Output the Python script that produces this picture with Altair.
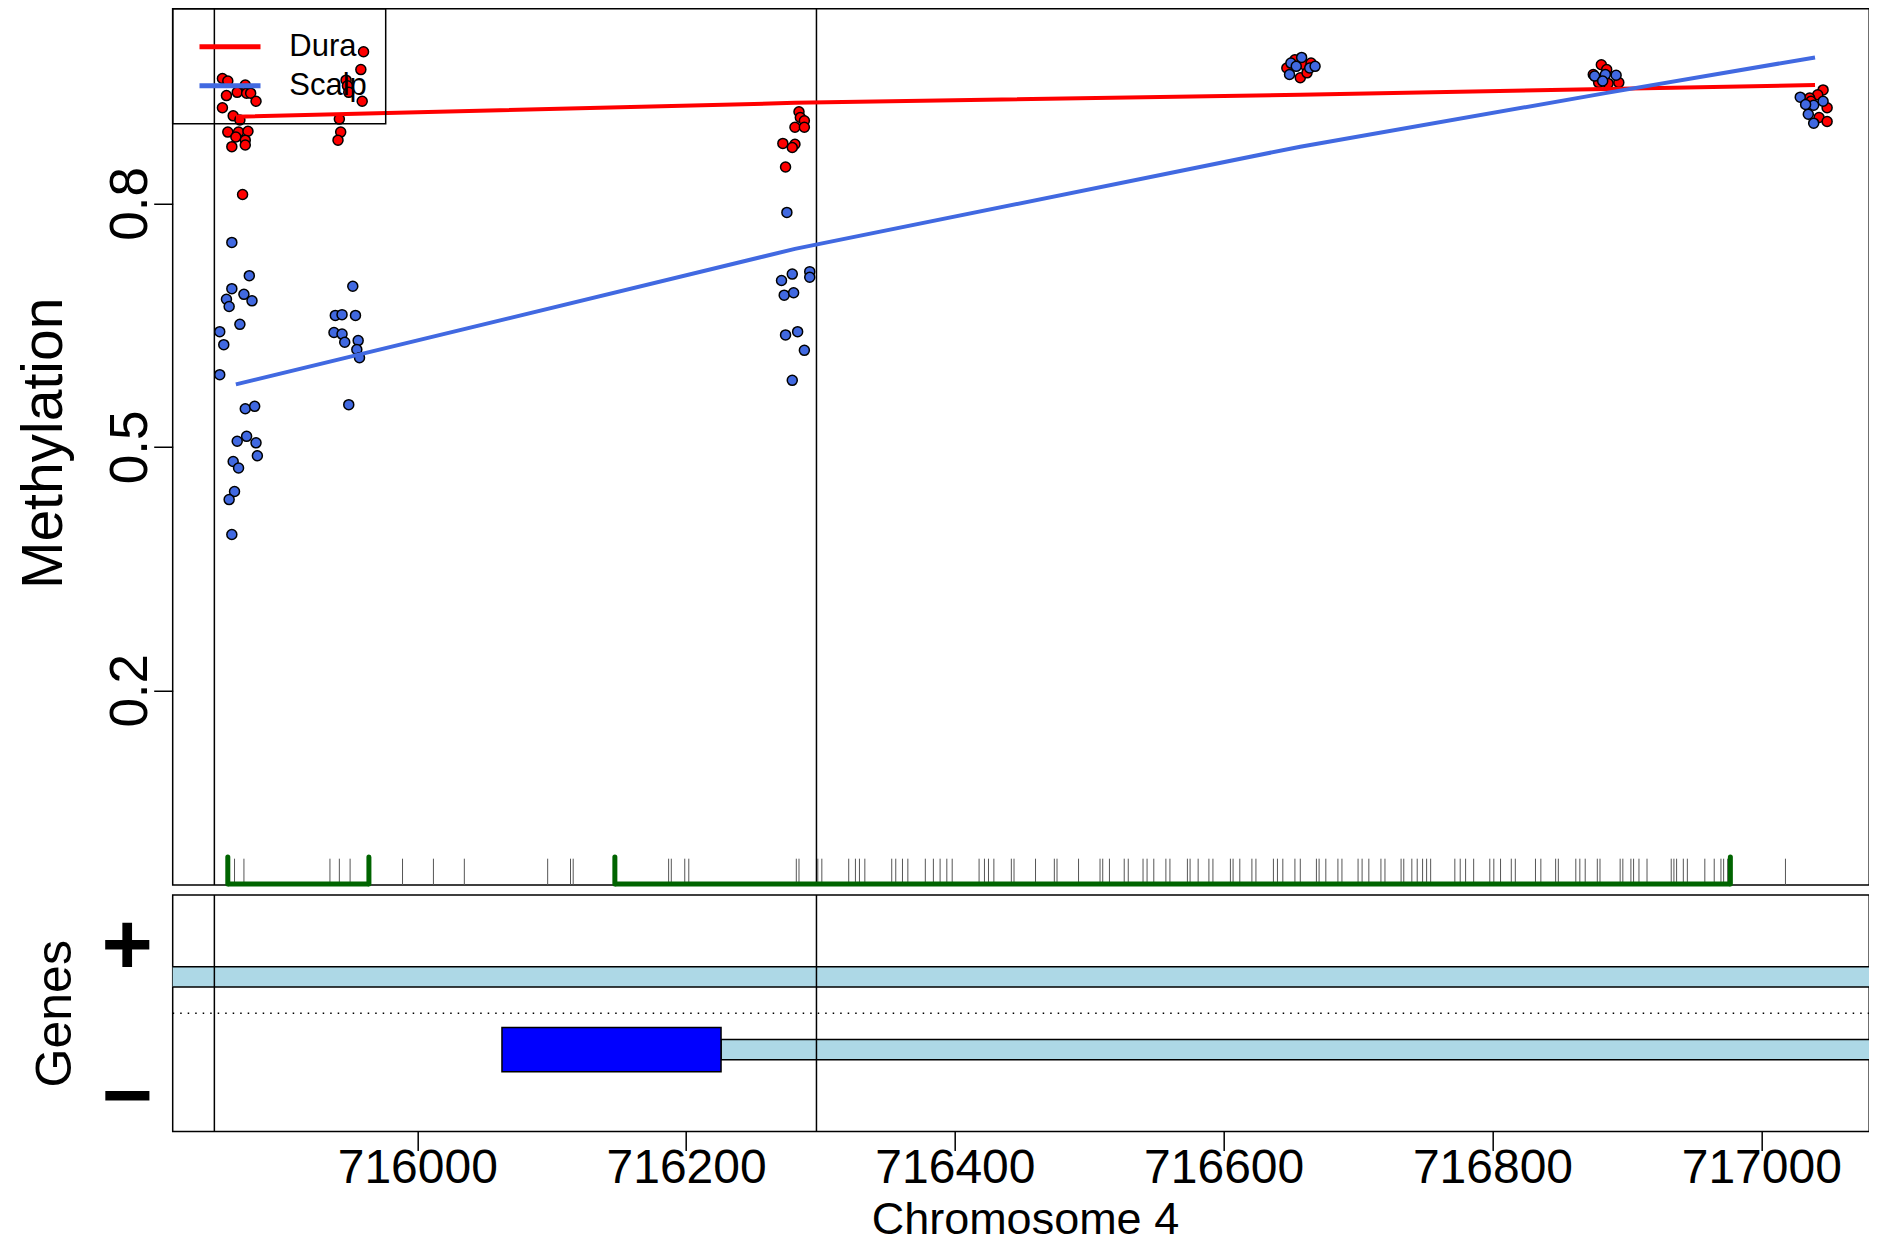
import altair as alt
import pandas as pd

# ---------------- data ----------------
x_ticks = [716000, 716200, 716400, 716600, 716800, 717000]
y_ticks = [0.2, 0.5, 0.8]
x_domain = [715818, 717080.3]
y_domain = [-0.04, 1.04]

tissues = ["Dura", "Scalp"]
tissue_colors = ["#FF0000", "#4169E1"]

dura_x = [715855, 715859, 715858, 715866, 715872, 715873, 715876, 715880, 715855, 715863,
          715868, 715859, 715867, 715874, 715865, 715872, 715862, 715872, 715870,
          715960, 715958, 715947, 715948, 715949, 715959, 715942, 715943, 715941,
          716284, 716285, 716288, 716281, 716288, 716272, 716281, 716279, 716274,
          716657, 716660, 716647, 716662, 716653, 716665,
          716881, 716885, 716879, 716886, 716894, 716875,
          717046, 717042, 717036, 717049, 717043, 717049, 717037]
dura_y = [0.954, 0.951, 0.933, 0.937, 0.946, 0.936, 0.936, 0.926, 0.918, 0.908,
          0.903, 0.888, 0.888, 0.889, 0.882, 0.878, 0.870, 0.872, 0.811,
          0.987, 0.965, 0.952, 0.945, 0.937, 0.926, 0.904, 0.888, 0.878,
          0.913, 0.906, 0.902, 0.894, 0.894, 0.874, 0.873, 0.869, 0.845,
          0.955, 0.971, 0.967, 0.961, 0.977, 0.973,
          0.971, 0.965, 0.949, 0.948, 0.949, 0.959,
          0.940, 0.934, 0.930, 0.918, 0.906, 0.901, 0.926]

scalp_x = [715862, 715875, 715862, 715858, 715871, 715877, 715860, 715868, 715853, 715856,
           715853, 715872, 715879, 715873, 715866, 715880, 715881, 715863, 715867, 715864,
           715860, 715862,
           715952, 715939, 715944, 715954, 715938, 715944, 715946, 715956, 715955, 715957, 715949,
           716275, 716292, 716292, 716279, 716271, 716273, 716280, 716274, 716283, 716288, 716279,
           716650, 716649, 716664, 716668, 716658, 716654,
           716876, 716884, 716892, 716882,
           717029, 717039, 717035, 717039, 717046, 717033]
scalp_y = [0.752, 0.711, 0.695, 0.682, 0.688, 0.680, 0.673, 0.651, 0.642, 0.626,
           0.589, 0.547, 0.550, 0.513, 0.507, 0.505, 0.489, 0.482, 0.474, 0.445,
           0.435, 0.392,
           0.698, 0.662, 0.663, 0.662, 0.641, 0.639, 0.629, 0.631, 0.620, 0.610, 0.552,
           0.789, 0.716, 0.709, 0.713, 0.705, 0.687, 0.690, 0.638, 0.642, 0.619, 0.582,
           0.973, 0.959, 0.967, 0.969, 0.980, 0.969,
           0.957, 0.959, 0.958, 0.951,
           0.931, 0.921, 0.910, 0.899, 0.926, 0.922]

line_x = [715865, 716281, 716657, 716884, 717040]
dura_line = [0.907, 0.924, 0.934, 0.941, 0.946]
scalp_line = [0.577, 0.744, 0.870, 0.936, 0.980]

cpg_pos = [715864, 715871, 715935, 715942, 715950, 715989, 716012, 716035, 716097, 716114,
           716116, 716187, 716189, 716199, 716202, 716282, 716284, 716298, 716301, 716321,
           716326, 716329, 716333, 716353, 716356, 716361, 716365, 716378, 716384, 716389,
           716394, 716398, 716418, 716422, 716425, 716429, 716442, 716444, 716460, 716474,
           716476, 716492, 716508, 716510, 716515, 716526, 716529, 716540, 716543, 716548,
           716557, 716560, 716573, 716575, 716581, 716589, 716592, 716605, 716607, 716612,
           716621, 716624, 716637, 716640, 716644, 716653, 716657, 716669, 716671, 716676,
           716685, 716688, 716700, 716703, 716708, 716717, 716720, 716732, 716734, 716740,
           716744, 716748, 716751, 716754, 716772, 716776, 716780, 716786, 716798, 716801,
           716806, 716814, 716817, 716832, 716836, 716847, 716849, 716862, 716865, 716869,
           716878, 716880, 716895, 716897, 716903, 716905, 716909, 716915, 716933, 716935,
           716937, 716942, 716945, 716958, 716965, 716970, 716972, 716975, 717018]

cgi_start = [715859, 716147]
cgi_end = [715964, 716977]

dmr_bounds = [715849, 716297]

gene_strand = ["+", "-"]
gene_start = [715700, 716226]
gene_end = [717200, 717200]
exon_start = [716063]
exon_end = [716226]

strand_label_pos = [0.58, -0.75]

# ---------------- layout / style ----------------
W = 1696.5
H1 = 876.25
H2 = 236.4
GAP = 9.3
FONT = "Liberation Sans"

xscale = alt.Scale(domain=x_domain, nice=False, zero=False)
yscale = alt.Scale(domain=y_domain, nice=False, zero=False)
gscale = alt.Scale(domain=[-1.04, 1.04], nice=False, zero=False)

pts = pd.DataFrame({
    "pos": dura_x + scalp_x,
    "meth": dura_y + scalp_y,
    "tissue": ["Dura"] * len(dura_x) + ["Scalp"] * len(scalp_x),
})
lines = pd.DataFrame({
    "pos": line_x + line_x,
    "meth": dura_line + scalp_line,
    "tissue": ["Dura"] * len(line_x) + ["Scalp"] * len(line_x),
})
cpg = pd.DataFrame({"pos": cpg_pos})
cgi = pd.DataFrame({"pos": cgi_start, "end": cgi_end})
cgi_ends = pd.DataFrame({"pos": cgi_start + cgi_end})
dmr = pd.DataFrame({"pos": dmr_bounds})
genes = pd.DataFrame({"pos": gene_start, "end": gene_end, "strand": gene_strand})
exons = pd.DataFrame({"pos": exon_start, "end": exon_end})
zero_line = pd.DataFrame({"g": [0.0]})

x_top = alt.X("pos:Q", scale=xscale, axis=None)
y_axis = alt.Axis(values=y_ticks, format=".1f", tickSize=19, tickWidth=1.5,
                  labelFontSize=53, labelAngle=270, labelAlign="center",
                  labelBaseline="alphabetic", labelPadding=6.7, labelFlush=False,
                  title="Methylation", titleFontSize=57, titleFontWeight="normal",
                  titleAngle=270, titleAlign="center", titleBaseline="alphabetic",
                  titleX=-111, titleY=H1 / 2 - 4)
y_top = alt.Y("meth:Q", scale=yscale, axis=y_axis)

dmr_top = alt.Chart(dmr).mark_rule(color="black", strokeWidth=1.5).encode(x=x_top)

rug = alt.Chart(cpg).mark_rule(color="#555555", strokeWidth=1).encode(
    x=x_top, y=alt.value(H1), y2=alt.value(H1 - 26.3))

cgi_h = alt.Chart(cgi).mark_rule(color="#006400", strokeWidth=5).encode(
    x=x_top, x2="end:Q", y=alt.value(H1 - 1))
cgi_v = alt.Chart(cgi_ends).mark_rule(color="#006400", strokeWidth=5, strokeCap="round").encode(
    x=x_top, y=alt.value(H1 - 1), y2=alt.value(H1 - 28))

# fill scale listed in reverse order so its (hidden) legend is not merged with the line legend
points = alt.Chart(pts).mark_circle(size=100, stroke="black", strokeWidth=1.5, opacity=1).encode(
    x=x_top, y=y_top,
    fill=alt.Fill("tissue:N", scale=alt.Scale(domain=tissues[::-1], range=tissue_colors[::-1]),
                  legend=None),
)

smooth = alt.Chart(lines).mark_line(strokeWidth=4).encode(
    x=x_top, y=y_top,
    color=alt.Color("tissue:N", scale=alt.Scale(domain=tissues, range=tissue_colors),
                    legend=alt.Legend(title=None, orient="none", legendX=0, legendY=0,
                                      padding=18.5, clipHeight=39, rowPadding=0,
                                      symbolType="stroke", symbolSize=3721,
                                      symbolStrokeWidth=5, symbolOffset=5.8,
                                      labelFontSize=31, labelFont=FONT, labelColor="black",
                                      labelOffset=26.3, strokeColor="black")),
)

top = alt.layer(dmr_top, rug, cgi_h, cgi_v, points, smooth).properties(width=W, height=H1)

# ---------------- genes panel ----------------
x_axis = alt.Axis(values=x_ticks, format="d", tickSize=19, tickWidth=1.5,
                  labelFontSize=48, labelBaseline="alphabetic", labelPadding=31.7,
                  labelFlush=False, labelOverlap=False,
                  title="Chromosome 4", titleFontSize=45, titleFontWeight="normal",
                  titleBaseline="alphabetic", titleAlign="center", titleX=852.2, titleY=102.5)
x_bot = alt.X("pos:Q", scale=xscale, axis=x_axis)
g_axis = alt.Axis(values=strand_label_pos, labelExpr="datum.value > 0 ? '+' : '\u2212'",
                  ticks=False, labelFontSize=88, labelFontWeight="bold", labelAngle=0,
                  labelAlign="center", labelBaseline="middle", labelPadding=46,
                  labelFlush=False, labelOverlap=False,
                  title="Genes", titleFontSize=50, titleFontWeight="normal",
                  titleAngle=270, titleAlign="center", titleBaseline="alphabetic",
                  titleX=-101.7, titleY=H2 / 2)

bands = alt.Chart(genes).transform_calculate(
    lo="datum.strand == '+' ? 0.23 : -0.41",
    hi="datum.strand == '+' ? 0.41 : -0.23",
).mark_rect(fill="#ADD8E6", stroke="black", strokeWidth=1.5, clip=True).encode(
    x=x_bot, x2="end:Q", y=alt.Y("lo:Q", scale=gscale, axis=g_axis), y2="hi:Q")

exon_rect = alt.Chart(exons).transform_calculate(lo="-0.515", hi="-0.125").mark_rect(
    fill="#0000FF", stroke="black", strokeWidth=1.5, clip=True).encode(
    x=x_bot, x2="end:Q", y=alt.Y("lo:Q", scale=gscale, axis=g_axis), y2="hi:Q")

dotted = alt.Chart(zero_line).mark_rule(color="black", strokeWidth=1.3, strokeDash=[1.5, 6]).encode(
    y=alt.Y("g:Q", scale=gscale, axis=g_axis))

dmr_bot = alt.Chart(dmr).mark_rule(color="black", strokeWidth=1.5).encode(x=x_bot)

gpanel = alt.layer(bands, exon_rect, dotted, dmr_bot).properties(width=W, height=H2)

# fixed frame: 164.7 px left margin + plot width = 1861.2 px wide, 1235 px tall drawing
chart = alt.vconcat(top, gpanel, spacing=GAP, bounds="flush").properties(
    autosize=alt.AutoSizeParams(type="none"),
    padding={"left": 164.7, "top": 0.75, "right": 0, "bottom": 1234.25},
    background="white",
).configure_view(stroke="black", strokeWidth=1.5).configure_axis(
    grid=False, domain=False, labelColor="black", titleColor="black",
    tickColor="black", labelFont=FONT, titleFont=FONT,
).configure_legend(strokeWidth=1.5)

chart.save("out.html", embed_options={"renderer": "svg", "actions": False})
